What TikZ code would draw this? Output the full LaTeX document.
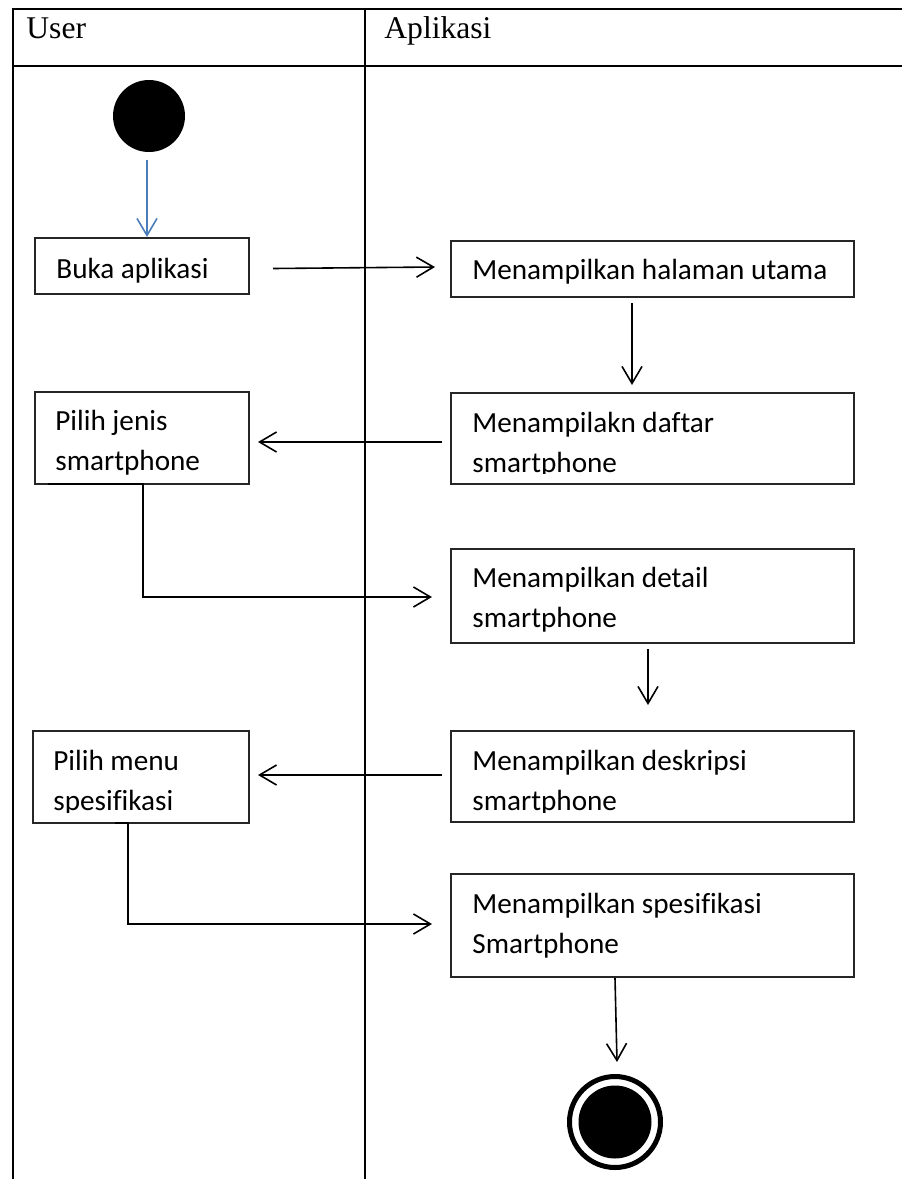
\documentclass[tikz,border=0pt]{standalone}
\usepackage{fontspec}
\setmainfont{Carlito}[Ligatures=NoCommon]
\newfontfamily\headfont{Liberation Serif}
\usetikzlibrary{arrows.meta,calc}
\definecolor{startblue}{RGB}{74,126,187}

\begin{document}
\begin{tikzpicture}[x=0.5pt,y=-0.5pt,
  lane/.style={line width=1.4pt},
  actbox/.style={draw=black!85, line width=0.65pt, inner sep=0pt, outer sep=0pt, anchor=north west},
  wide/.style={actbox, minimum width=201.5pt},
  narrow/.style={actbox, minimum width=107pt},
  label/.style={anchor=base west, inner sep=0pt, font=\fontsize{14.6}{20}\selectfont},
  headlabel/.style={anchor=base west, inner sep=0pt, font=\headfont\fontsize{15.8}{18}\selectfont},
  flow/.style={line width=0.8pt, -{Straight Barb[length=8.5pt,width=10pt,line width=0.8pt]}},
]
\useasboundingbox (0,0) rectangle (902,1179);

% swimlane table
\draw[lane] (12,9) -- (902,9);
\draw[lane] (12,66) -- (902,66);
\draw[lane] (13,9) -- (13,1179);
\draw[lane] (365,9) -- (365,1179);
\node[headlabel] (hUser) at (26,38) {User};
\node[headlabel] (hApp) at (384,38) {Aplikasi};

% initial and final states
\node[circle, fill=black, minimum size=36pt, inner sep=0pt] (start) at (149,116) {};
\node[circle, draw=black, line width=2.5pt, minimum size=45.5pt, inner sep=0pt] (end) at (615,1122) {};
\node[circle, fill=black, minimum size=36.5pt, inner sep=0pt] (endcore) at (end.center) {};

% activity boxes
\node[narrow, minimum height=28pt] (buka) at (35,238) {};
\node[wide, minimum height=28pt] (halaman) at (451,241) {};
\node[narrow, minimum height=46pt] (pilihjenis) at (35,392) {};
\node[wide, minimum height=45.5pt] (daftar) at (451,393) {};
\node[wide, minimum height=47pt] (detail) at (451,549) {};
\node[narrow, minimum width=108pt, minimum height=46pt] (pilihmenu) at (33,731) {};
\node[wide, minimum height=45.5pt] (deskripsi) at (451,731) {};
\node[wide, minimum height=51.5pt] (spesifikasi) at (451,874) {};

% box texts
\node[label] (tBuka) at ($(buka.north west)+(21,40)$) {Buka aplikasi};
\node[label] (tHal) at ($(halaman.north west)+(21,38)$) {Menampilkan halaman utama};
\begin{scope}
  \clip (pilihjenis.north west) rectangle ($(pilihjenis.south east)+(0,-10)$);
  \node[label] (tPj1) at ($(pilihjenis.north west)+(20,38)$) {Pilih jenis};
  \node[label] (tPj2) at ($(pilihjenis.north west)+(20,78)$) {smartphone};
\end{scope}
\begin{scope}
  \clip (daftar.north west) rectangle ($(daftar.south east)+(0,-11)$);
  \node[label] (tDf1) at ($(daftar.north west)+(21,39)$) {Menampilakn daftar};
  \node[label] (tDf2) at ($(daftar.north west)+(21,79)$) {smartphone};
\end{scope}
\node[label] (tDt1) at ($(detail.north west)+(21,38)$) {Menampilkan detail};
\node[label] (tDt2) at ($(detail.north west)+(21,78)$) {smartphone};
\begin{scope}
  \clip (pilihmenu.north west) rectangle ($(pilihmenu.south east)+(0,-11)$);
  \node[label] (tPm1) at ($(pilihmenu.north west)+(20,39)$) {Pilih menu};
  \node[label] (tPm2) at ($(pilihmenu.north west)+(20,79)$) {spesifikasi};
\end{scope}
\begin{scope}
  \clip (deskripsi.north west) rectangle ($(deskripsi.south east)+(0,-10)$);
  \node[label] (tDs1) at ($(deskripsi.north west)+(21,39)$) {Menampilkan deskripsi};
  \node[label] (tDs2) at ($(deskripsi.north west)+(21,79)$) {smartphone};
\end{scope}
\node[label] (tSp1) at ($(spesifikasi.north west)+(21,39)$) {Menampilkan spesifikasi};
\node[label] (tSp2) at ($(spesifikasi.north west)+(21,79)$) {Smartphone};

% control flow
\draw[flow, draw=startblue] ($(start.south)+(-2,8)$) -- ($(buka.north)+(5,-1)$);
\draw[flow] ($(buka.east)+(24,2.5)$) -- ($(halaman.west)+(-16,-2)$);
\draw[flow] ($(halaman.south)+(-20.5,6)$) -- ($(daftar.north)+(-20.5,-8)$);
\draw[flow] ($(daftar.west)+(-9,3.5)$) -- ($(pilihjenis.east)+(9,4)$);
\draw[flow] ($(pilihjenis.south west)+(13,0)$) -- ($(pilihjenis.south west)+(108,0)$) |- ($(detail.west)+(-19,1)$);
\draw[flow] ($(detail.south)+(-4.5,6)$) -- ($(deskripsi.north)+(-4.5,-26)$);
\draw[flow] ($(deskripsi.west)+(-9,-1.5)$) -- ($(pilihmenu.east)+(9,-2)$);
\draw[flow] ($(pilihmenu.south west)+(82,0)$) -- ($(pilihmenu.south west)+(95,0)$) |- ($(spesifikasi.west)+(-19,-1.5)$);
\draw[flow] ($(spesifikasi.south)+(-37.5,1)$) -- ($(end.north)+(2,-12)$);
\end{tikzpicture}
\end{document}
